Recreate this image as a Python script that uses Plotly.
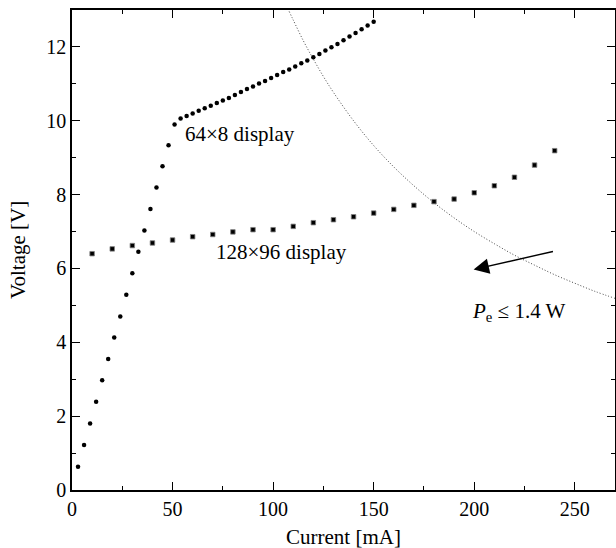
import plotly.graph_objects as go

# 64x8 display (current mA, voltage V)
cur_64x8 = [3, 6, 9, 12, 15, 18, 21, 24, 27, 30, 33, 36, 39, 42, 45, 48, 51,
            54, 57, 60, 63, 66, 69, 72, 75, 78, 81, 84, 87, 90, 93, 96, 99,
            102, 105, 108, 111, 114, 117, 120, 123, 126, 129, 132, 135, 138,
            141, 144, 147, 150]
volt_64x8 = [0.63, 1.22, 1.80, 2.39, 2.97, 3.55, 4.13, 4.70, 5.29, 5.87, 6.45,
             7.03, 7.61, 8.19, 8.77, 9.34, 9.90,
             10.06, 10.13, 10.20, 10.27, 10.34, 10.41, 10.48, 10.55, 10.62,
             10.70, 10.78, 10.86, 10.93, 11.01, 11.08, 11.16, 11.24, 11.32,
             11.39, 11.47, 11.56, 11.63, 11.72, 11.81, 11.90, 11.99, 12.08,
             12.18, 12.28, 12.38, 12.48, 12.58, 12.68]

# 128x96 display
cur_128x96 = [10, 20, 30, 40, 50, 60, 70, 80, 90, 100, 110, 120, 130, 140,
              150, 160, 170, 180, 190, 200, 210, 220, 230, 240]
volt_128x96 = [6.40, 6.53, 6.62, 6.69, 6.77, 6.86, 6.92, 6.99, 7.05, 7.05,
               7.14, 7.24, 7.32, 7.40, 7.50, 7.60, 7.71, 7.81, 7.88, 8.05,
               8.24, 8.47, 8.80, 9.19]

# Power limit curve (Pe = 1.4 W)
cur_limit = [108, 110, 115, 120, 125, 130, 140, 150, 160, 170, 180, 190, 200,
             210, 220, 230, 240, 250, 260, 270]
volt_limit = [12.96, 12.73, 12.17, 11.67, 11.20, 10.77, 10.00, 9.33, 8.75,
              8.24, 7.78, 7.37, 7.00, 6.67, 6.36, 6.09, 5.83, 5.60, 5.38, 5.19]

x_ticks = [0, 50, 100, 150, 200, 250]
y_ticks = [0, 2, 4, 6, 8, 10, 12]

FONT = "Liberation Serif"

fig = go.Figure()
fig.add_trace(go.Scatter(x=cur_limit, y=volt_limit, mode="lines",
                         line=dict(color="#444444", width=1, dash="1px,2px", shape="spline"),
                         showlegend=False, hoverinfo="skip"))
fig.add_trace(go.Scatter(x=cur_64x8, y=volt_64x8, mode="markers",
                         marker=dict(symbol="circle", size=4.5, color="black"),
                         showlegend=False))
fig.add_trace(go.Scatter(x=cur_128x96, y=volt_128x96, mode="markers",
                         marker=dict(symbol="square", size=4.5, color="black",
                                     line=dict(width=0.8, color="#808080")),
                         showlegend=False))

fig.add_annotation(x=55, y=9.65, text="64×8 display", showarrow=False,
                   xanchor="left", yanchor="middle", font=dict(size=21, family=FONT))
fig.add_annotation(x=70.6, y=6.44, text="128×96 display", showarrow=False,
                   xanchor="left", yanchor="middle", font=dict(size=21, family=FONT))
fig.add_annotation(x=222.5, y=4.81, text="<i>P</i><sub>e</sub> ≤ 1.4 W", showarrow=False,
                   xanchor="center", yanchor="middle", font=dict(size=21, family=FONT))
fig.add_annotation(x=199.7, y=5.97, ax=239.9, ay=6.47, axref="x", ayref="y",
                   xref="x", yref="y", text="", showarrow=True,
                   arrowhead=2, arrowsize=2.2, arrowwidth=1.4, arrowcolor="black")

# axis titles
fig.add_annotation(xref="paper", yref="paper", x=0.5, y=0, yshift=-47,
                   text="Current [mA]", showarrow=False, xanchor="center",
                   yanchor="middle", font=dict(size=21, family=FONT))
fig.add_annotation(xref="paper", yref="paper", x=0, y=0.5, xshift=-54,
                   text="Voltage [V]", showarrow=False, textangle=-90,
                   xanchor="center", yanchor="middle", font=dict(size=21, family=FONT))

axis_common = dict(showline=True, linecolor="black", linewidth=1.5, mirror="allticks",
                   ticks="inside", ticklen=8, tickwidth=1.3, tickcolor="black",
                   showgrid=False, zeroline=False, automargin=False,
                   tickfont=dict(size=20, color="black", family=FONT))

fig.update_xaxes(range=[0, 270], tickvals=x_ticks,
                 minor=dict(dtick=25, ticklen=4, tickwidth=1.2, ticks="inside", tickcolor="black"),
                 **axis_common)
fig.update_yaxes(range=[0, 13], tickvals=y_ticks,
                 minor=dict(dtick=1, ticklen=4, tickwidth=1.2, ticks="inside", tickcolor="black"),
                 **axis_common)

fig.update_layout(width=616, height=548,
                  margin=dict(l=72, r=1, t=10, b=58),
                  plot_bgcolor="white", paper_bgcolor="white",
                  font=dict(family=FONT, color="black", size=20))

fig.write_html("out.html", config={"displayModeBar": False},
               post_script="document.body.style.margin='0';document.body.style.overflow='hidden';")
